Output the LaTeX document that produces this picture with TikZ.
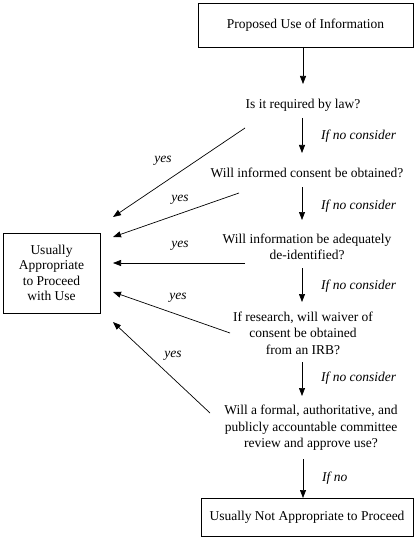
\documentclass[tikz,border=0pt]{standalone}
\usepackage{fontspec}
\setmainfont{Liberation Serif}
\usetikzlibrary{arrows.meta}
\begin{document}
\begin{tikzpicture}[x=1pt,y=-1pt,
  txt/.style={font=\fontsize{13.5}{16.5}\selectfont, align=center, inner sep=0pt},
  lbl/.style={font=\fontsize{13.5}{16}\selectfont\itshape, inner sep=0pt},
  boxnode/.style={draw, line width=0.7pt, font=\fontsize{13.5}{16}\selectfont, align=center, inner sep=0pt},
  arr/.style={line width=0.7pt, -{Triangle[length=8pt,width=6pt]}}]
\useasboundingbox (0,0) rectangle (416,548);
% boxes
\node[boxnode, minimum width=215pt, minimum height=44pt] (top) at (305.5,25) {Proposed Use of Information};
\node[boxnode, minimum width=97pt, minimum height=80pt] (ok) at (51.5,273) {Usually\\[-0.5pt]Appropriate\\[-0.5pt]to Proceed\\[-0.5pt]with Use};
\node[boxnode, minimum width=212pt, minimum height=38pt] (no) at (307,517) {Usually Not Appropriate to Proceed};
% questions
\node[txt] (q1) at (303,105) {Is it required by law?};
\node[txt] (q2) at (307,173) {Will informed consent be obtained?};
\node[txt] (q3) at (307,247) {Will information be adequately\\de-identified?};
\node[txt] (q4) at (303,333) {If research, will waiver of\\consent be obtained\\from an IRB?};
\node[txt] (q5) at (311,428) {Will a formal, authoritative, and\\publicly accountable committee\\review and approve use?};
% vertical connector endpoints
\coordinate (a0s) at (303,47); \coordinate (a0e) at (303,84);
\coordinate (a1s) at (302,118); \coordinate (a1e) at (302,153);
\coordinate (a2s) at (302,187); \coordinate (a2e) at (302,220);
\coordinate (a3s) at (302,268); \coordinate (a3e) at (302,302);
\coordinate (a4s) at (302,362); \coordinate (a4e) at (302,396);
\coordinate (a5s) at (303,459); \coordinate (a5e) at (303,498);
\draw[arr] (a0s) -- (a0e);
\draw[arr] (a1s) -- (a1e);
\draw[arr] (a2s) -- (a2e);
\draw[arr] (a3s) -- (a3e);
\draw[arr] (a4s) -- (a4e);
\draw[arr] (a5s) -- (a5e);
\node[lbl, anchor=west] (n1) at (321,136) {If no consider};
\node[lbl, anchor=west] (n2) at (321,206) {If no consider};
\node[lbl, anchor=west] (n3) at (321,286) {If no consider};
\node[lbl, anchor=west] (n4) at (321,378) {If no consider};
\node[lbl, anchor=west] (n5) at (322,478) {If no};
% yes connectors
\coordinate (y1s) at (245,128); \coordinate (y1e) at (113,217);
\coordinate (y2s) at (239,193); \coordinate (y2e) at (113,237);
\coordinate (y3s) at (245,263); \coordinate (y3e) at (113,263);
\coordinate (y4s) at (230,333); \coordinate (y4e) at (113,292);
\coordinate (y5s) at (210,413); \coordinate (y5e) at (113,322);
\draw[arr] (y1s) -- (y1e);
\draw[arr] (y2s) -- (y2e);
\draw[arr] (y3s) -- (y3e);
\draw[arr] (y4s) -- (y4e);
\draw[arr] (y5s) -- (y5e);
\node[lbl] (l1) at (163,161) {yes};
\node[lbl] (l2) at (180,200) {yes};
\node[lbl] (l3) at (180,246) {yes};
\node[lbl] (l4) at (178,298) {yes};
\node[lbl] (l5) at (173,356) {yes};
\end{tikzpicture}
\end{document}
